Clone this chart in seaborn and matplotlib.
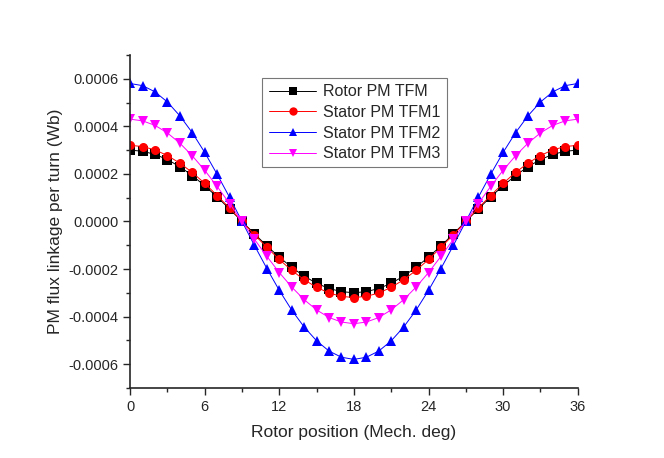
import numpy as np
import pandas as pd
import seaborn as sns
import matplotlib
matplotlib.use("Agg")
import matplotlib.pyplot as plt
from matplotlib.ticker import MultipleLocator, FormatStrFormatter

# rotor position (mech. deg), 1 deg steps
position = list(range(0, 37))

# PM flux linkage per turn, values in 1e-4 Wb
rotor_tfm = [3.00, 2.95, 2.82, 2.60, 2.30, 1.93, 1.50, 1.03, 0.52, 0.00,
             -0.52, -1.03, -1.50, -1.93, -2.30, -2.60, -2.82, -2.95, -3.00,
             -2.95, -2.82, -2.60, -2.30, -1.93, -1.50, -1.03, -0.52, 0.00,
             0.52, 1.03, 1.50, 1.93, 2.30, 2.60, 2.82, 2.95, 3.00]
stator_tfm1 = [3.20, 3.15, 3.01, 2.77, 2.45, 2.06, 1.60, 1.09, 0.56, 0.00,
               -0.56, -1.09, -1.60, -2.06, -2.45, -2.77, -3.01, -3.15, -3.20,
               -3.15, -3.01, -2.77, -2.45, -2.06, -1.60, -1.09, -0.56, 0.00,
               0.56, 1.09, 1.60, 2.06, 2.45, 2.77, 3.01, 3.15, 3.20]
stator_tfm2 = [5.80, 5.71, 5.45, 5.02, 4.44, 3.73, 2.90, 1.98, 1.01, 0.00,
               -1.01, -1.98, -2.90, -3.73, -4.44, -5.02, -5.45, -5.71, -5.80,
               -5.71, -5.45, -5.02, -4.44, -3.73, -2.90, -1.98, -1.01, 0.00,
               1.01, 1.98, 2.90, 3.73, 4.44, 5.02, 5.45, 5.71, 5.80]
stator_tfm3 = [4.30, 4.23, 4.04, 3.72, 3.29, 2.76, 2.15, 1.47, 0.75, 0.00,
               -0.75, -1.47, -2.15, -2.76, -3.29, -3.72, -4.04, -4.23, -4.30,
               -4.23, -4.04, -3.72, -3.29, -2.76, -2.15, -1.47, -0.75, 0.00,
               0.75, 1.47, 2.15, 2.76, 3.29, 3.72, 4.04, 4.23, 4.30]

names = ["Rotor PM TFM", "Stator PM TFM1", "Stator PM TFM2", "Stator PM TFM3"]
series = [rotor_tfm, stator_tfm1, stator_tfm2, stator_tfm3]

frames = []
for name, vals in zip(names, series):
    frames.append(pd.DataFrame({"pos": position,
                                "flux": np.array(vals) * 1e-4,
                                "case": name}))
df = pd.concat(frames, ignore_index=True)

sns.set_style("ticks")
plt.rcParams["font.family"] = ["Liberation Sans", "DejaVu Sans"]

fig = plt.figure(figsize=(6.64, 4.58), dpi=100)
ax = fig.add_axes([0.196, 0.153, 0.674, 0.727])

palette = {names[0]: "black", names[1]: "red", names[2]: "blue", names[3]: "magenta"}
markers = {names[0]: "s", names[1]: "o", names[2]: "^", names[3]: "v"}
sns.lineplot(data=df, x="pos", y="flux", hue="case", style="case",
             palette=palette, markers=markers, dashes=False,
             linewidth=0.7, markersize=6.5, markeredgewidth=0, ax=ax)

ax.set_xlim(0, 36)
ax.set_ylim(-0.0007, 0.0007)
ax.xaxis.set_major_locator(MultipleLocator(6))
ax.xaxis.set_minor_locator(MultipleLocator(3))
ax.yaxis.set_major_locator(MultipleLocator(0.0002))
ax.yaxis.set_minor_locator(MultipleLocator(0.0001))
ax.yaxis.set_major_formatter(FormatStrFormatter("%.4f"))
ax.tick_params(which="major", direction="out", length=5, width=1, labelsize=10.5)
ax.tick_params(which="minor", direction="out", length=3, width=1)
for s in ["left", "bottom"]:
    ax.spines[s].set_linewidth(1.2)
sns.despine(ax=ax)

ax.set_xlabel("Rotor position (Mech. deg)", fontsize=12.5, labelpad=8)
ax.set_ylabel("PM flux linkage per turn (Wb)", fontsize=12.5, labelpad=4)

leg = ax.legend(title=None, loc="upper left", bbox_to_anchor=(0.295, 0.931),
                borderaxespad=0, fontsize=11.5, frameon=True, fancybox=False,
                handlelength=3.0, borderpad=0.4, labelspacing=0.35,
                handletextpad=0.4)
for h, t in zip(leg.legend_handles, leg.get_texts()):
    c = palette[t.get_text()]
    h.set_color(c)
    h.set_markerfacecolor(c)
    h.set_markersize(6)
    h.set_linewidth(0.7)
    h.set_markeredgewidth(0)
leg.get_frame().set_edgecolor("#555555")
leg.get_frame().set_linewidth(0.8)

fig.savefig("out.png", dpi=100)
